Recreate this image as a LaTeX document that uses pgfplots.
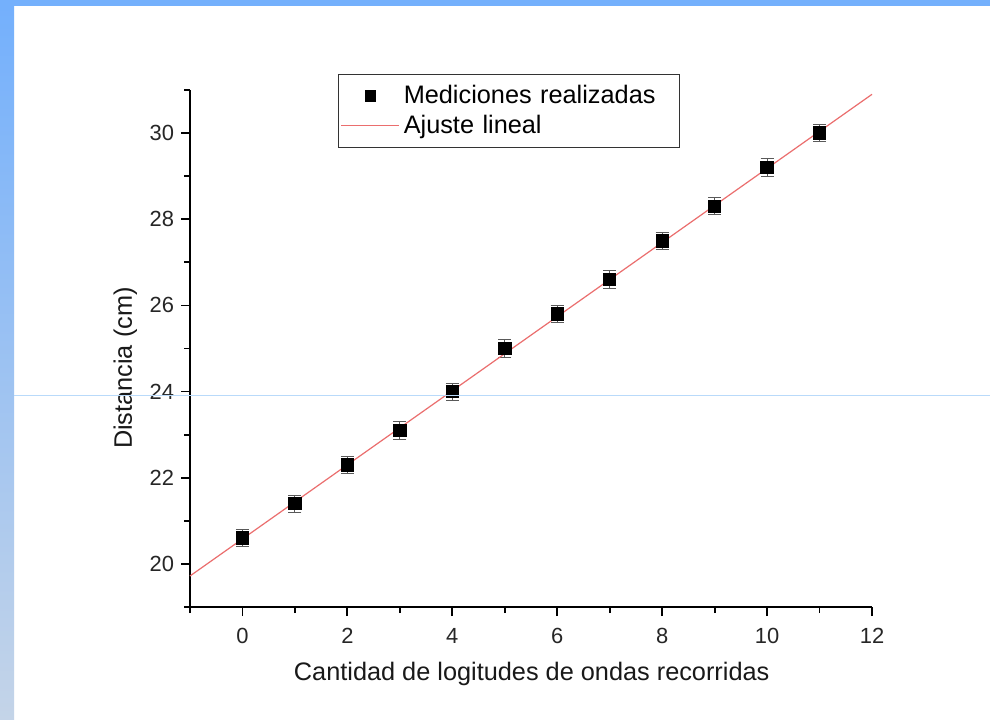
\documentclass[border=0pt]{standalone}
\usepackage{fontspec}
\setmainfont{Liberation Sans}
\usepackage{pgfplots}
\pgfplotsset{compat=1.18}
\definecolor{topblue}{RGB}{116,176,252}
\definecolor{botblue}{RGB}{196,212,232}
\definecolor{fitred}{RGB}{235,110,110}
\definecolor{thinblue}{RGB}{185,218,250}
\begin{document}
\begin{tikzpicture}
\path[use as bounding box] (0,0) rectangle (495bp,360bp);
\fill[white] (0,0) rectangle (495bp,360bp);
\fill[topblue] (0,357bp) rectangle (495bp,360bp);
\shade[top color=topblue, bottom color=botblue] (0,0) rectangle (7bp,357bp);
\begin{axis}[
  at={(95bp,56.5bp)}, anchor=south west,
  scale only axis, width=341bp, height=258.5bp,
  xmin=-1, xmax=12, ymin=19, ymax=31,
  axis lines*=left,
  axis line style={black, line width=1bp},
  tick align=outside,
  xtick={0,2,4,6,8,10,12},
  minor xtick={-1,1,3,5,7,9,11},
  ytick={20,22,24,26,28,30},
  minor ytick={19,21,23,25,27,29,31},
  major tick length=4.5bp, minor tick length=3bp,
  every tick/.style={black, line width=0.9bp},
  /pgf/number format/assume math mode=true,
  tick label style={font=\fontsize{11}{13}\selectfont, text=black!85},
  xticklabel style={yshift=-2.5bp},
  xlabel={Cantidad de logitudes de ondas recorridas},
  ylabel={Distancia (cm)},
  label style={font=\fontsize{12.7}{15}\selectfont, text=black!90},
  xlabel style={at={(axis description cs:0.501,-0.13)}, anchor=center},
  ylabel style={at={(axis description cs:-0.095,0.462)}, anchor=center},
  clip=false,
  legend style={at={(axis description cs:0.217,1.031)}, anchor=north west,
    draw=black!80, line width=0.6bp, font=\fontsize{12.7}{15}\selectfont,
    inner xsep=1bp, inner ysep=3.5bp, row sep=0bp,
    text width=135bp},
  legend cell align=left,
]
\addplot[only marks, mark=square*, mark size=3.1bp, black,
  legend image code/.code={\draw[black, fill=black] (12bp,-2.6bp) rectangle (17.2bp,2.6bp);},
  error bars/.cd, y dir=both, y explicit,
  error bar style={line width=0.45bp, black!65},
  error mark options={rotate=90, mark size=3.25bp, line width=0.45bp, black!65},
  ] coordinates {
  (0,20.6) +- (0,0.2)
  (1,21.4) +- (0,0.2)
  (2,22.3) +- (0,0.2)
  (3,23.1) +- (0,0.2)
  (4,24.0) +- (0,0.2)
  (5,25.0) +- (0,0.2)
  (6,25.8) +- (0,0.2)
  (7,26.6) +- (0,0.2)
  (8,27.5) +- (0,0.2)
  (9,28.3) +- (0,0.2)
  (10,29.2) +- (0,0.2)
  (11,30.0) +- (0,0.2)
};
\addplot[line width=0.6bp, color=fitred,
  legend image code/.code={\draw[line width=0.6bp, fitred] (0bp,0bp) -- (29bp,0bp);}]
  coordinates {(-1,19.72) (12,30.90)};
\legend{Mediciones realizadas, Ajuste lineal}
\end{axis}
\draw[thinblue, line width=0.5bp] (7bp,162bp) -- (495bp,162bp);
\end{tikzpicture}
\end{document}
